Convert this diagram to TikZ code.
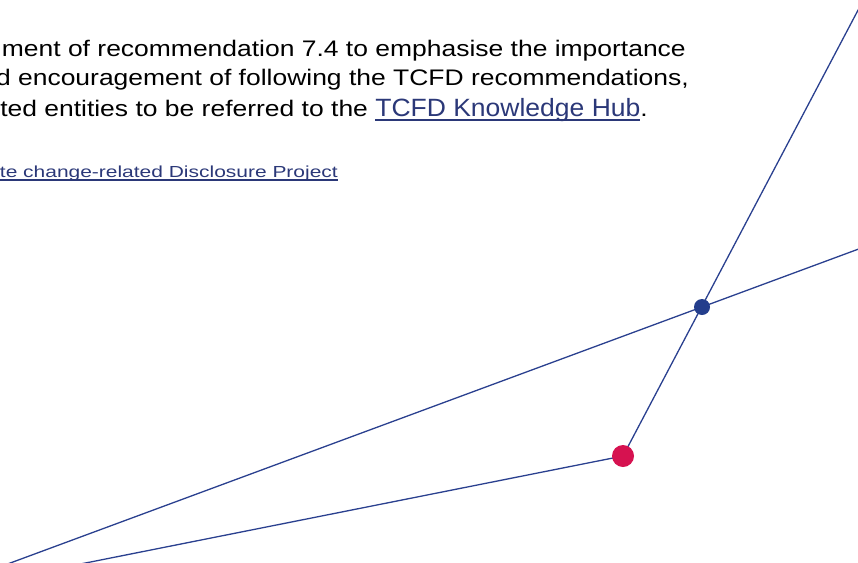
\documentclass[tikz,border=0pt]{standalone}
\usepackage{fontspec}
\usepackage{tikz}
\setmainfont{Liberation Sans}
\newfontfamily\slidefont[FakeStretch=1.176]{Liberation Sans}
\newfontfamily\hubfont[FakeStretch=1.06]{Liberation Sans}
\newfontfamily\notefont[FakeStretch=1.31]{Liberation Sans}
\definecolor{lineblue}{RGB}{42,64,143}
\definecolor{dotblue}{RGB}{36,62,140}
\definecolor{dotred}{RGB}{214,18,80}
\definecolor{linkblue}{RGB}{43,56,120}
\newsavebox{\linkbox}
\newcommand{\linkline}[2]{\sbox{\linkbox}{#2}\rlap{\raisebox{-#1}{\rule{\wd\linkbox}{1.6pt}}}\usebox{\linkbox}}
\newcommand{\linktext}[1]{\textcolor{linkblue}{\linkline{4.5pt}{#1}}}
\tikzstyle{body} = [font=\slidefont\fontsize{22.5}{28}\selectfont, inner sep=0pt, anchor=base east]
\tikzstyle{foot} = [font=\notefont\fontsize{16}{19}\selectfont, inner sep=0pt, anchor=base east, text=linkblue]
\tikzstyle{ray} = [draw=lineblue, line width=1.3pt]
\tikzstyle{bluedot} = [circle, fill=dotblue, inner sep=0pt, minimum size=16pt]
\tikzstyle{reddot} = [circle, fill=dotred, inner sep=0pt, minimum size=22pt]

\begin{document}
\begin{tikzpicture}[x=1pt, y=-1pt]
\useasboundingbox (0,0) rectangle (858,562);
\clip (0,0) rectangle (858,562);
  \node (line1) [body] at (686,56) {ment of recommendation 7.4 to emphasise the importance};
  \node (line2) [body] at (689,85) {d encouragement of following the TCFD recommendations,};
  \node (line3) [body] at (648,116) {ted entities to be referred to the {\hubfont\fontsize{25}{30}\selectfont\linktext{TCFD Knowledge Hub}}.};
  \node (note) [foot] at (338,177) {\linkline{3.5pt}{te change-related Disclosure Project}};
  \coordinate (lowA) at (-20,574.2);
  \coordinate (rightA) at (880,241.1);
  \coordinate (lowC) at (-20,584);
  \coordinate (topB) at (866,-5);
  \coordinate (cross) at (702,307);
  \coordinate (bend) at (623,456);
  \draw[ray] (lowA) -- (rightA);
  \draw[ray] (lowC) -- (bend) -- (topB);
  \node (cut) [bluedot] at (cross) {};
  \node (knee) [reddot] at (bend) {};
\end{tikzpicture}
\end{document}
